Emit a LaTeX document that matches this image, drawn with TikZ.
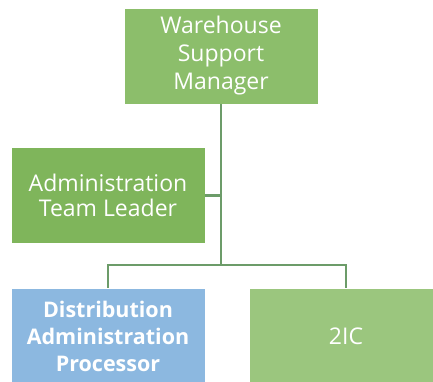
\documentclass[tikz,border=0pt]{standalone}
\usepackage{fontspec}
\setmainfont{Open Sans}
\definecolor{mgrgreen}{HTML}{8CBE6B}
\definecolor{leadgreen}{HTML}{7FB55B}
\definecolor{icgreen}{HTML}{9BC67E}
\definecolor{distblue}{HTML}{8CB8E0}
\definecolor{linkgreen}{HTML}{6C9C69}
\begin{document}
\begin{tikzpicture}[x=1pt,y=1pt,
	box/.style={draw=white,line width=.8pt,text=white,align=center,inner sep=0pt,
		minimum width=194pt,minimum height=96pt,font=\fontsize{23}{28}\selectfont},
	link/.style={draw=linkgreen,line width=2.4pt}]
	\useasboundingbox (0,0) rectangle (433,-381);
	\node[box,fill=mgrgreen] (mgr) at (221,-56) {Warehouse\\Support\\Manager};
	\node[box,fill=leadgreen,font=\fontsize{23}{25}\selectfont] (lead) at (108,-195.5) {Administration\\Team Leader};
	\node[box,fill=distblue,font=\fontsize{21.5}{27}\selectfont\bfseries] (dist) at (108,-336) {Distribution\\Administration\\Processor};
	\node[box,fill=icgreen] (ic) at (346,-336) {2IC};
	\coordinate (bus) at (221,-265);
	\draw[link] (mgr.south) -- (bus);
	\draw[link] (lead.east) -- (lead.east -| bus);
	\draw[link] (dist.north) |- (bus) -| (ic.north);
\end{tikzpicture}
\end{document}
